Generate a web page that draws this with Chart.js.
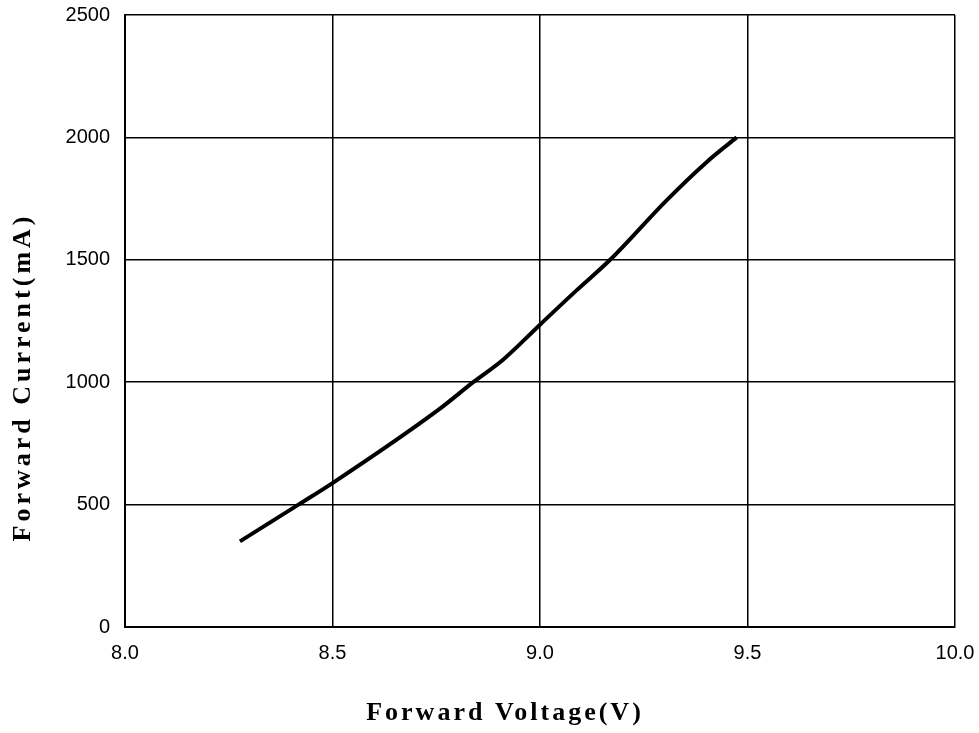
<!DOCTYPE html>
<html>
<head>
<meta charset="utf-8">
<script src="https://cdn.jsdelivr.net/npm/chart.js@4"></script>
<style>
    html, body { margin: 0; padding: 0; background: #fff; }
    #wrap { width: 979px; height: 733px; }
</style>
</head>
<body>
<div id="wrap"><canvas id="ivChart" width="979" height="733"></canvas></div>
<script>
// I-V curve data
const voltage = [8.277, 8.418, 8.5, 8.759, 8.839, 8.911, 9.0, 9.088, 9.169, 9.305, 9.402, 9.474];
const current = [350, 500, 588, 892, 1000, 1092, 1235, 1375, 1500, 1743, 1900, 2000];

const xTicks = [8.0, 8.5, 9.0, 9.5, 10.0];
const yTicks = [0, 500, 1000, 1500, 2000, 2500];

const xTitle = "Forward Voltage(V)";
const yTitle = "Forward Current(mA)";

const points = voltage.map((v, i) => ({ x: v, y: current[i] }));

// axis titles drawn by hand so they can get letter spacing
const axisTitles = {
    id: "axisTitles",
    afterDraw(chart) {
        const c = chart.ctx;
        c.save();
        c.fillStyle = "#000";
        c.font = "bold 26px 'Liberation Serif', 'Times New Roman', serif";
        c.letterSpacing = "3px";
        c.textAlign = "center";
        c.textBaseline = "middle";
        c.fillText(xTitle, 505, 713);

        c.translate(23, 377);
        c.rotate(-Math.PI / 2);
        c.letterSpacing = "4px";
        c.fillText(yTitle, 0, 0);
        c.restore();
    }
};

const ctx = document.getElementById("ivChart");

new Chart(ctx, {
    type: "line",
    data: {
        datasets: [{
            data: points,
            borderColor: "#000",
            borderWidth: 4,
            pointRadius: 0,
            cubicInterpolationMode: "monotone",
            fill: false
        }]
    },
    options: {
        responsive: false,
        animation: false,
        layout: {
            padding: { top: 15, right: 24, bottom: 0, left: 0 }
        },
        plugins: {
            legend: { display: false },
            tooltip: { enabled: false }
        },
        scales: {
            x: {
                type: "linear",
                min: 8,
                max: 10,
                afterBuildTicks(scale) {
                    scale.ticks = xTicks.map(v => ({ value: v }));
                },
                afterFit(scale) {
                    scale.height = 106;
                    scale.paddingLeft = 0;
                    scale.paddingRight = 0;
                },
                ticks: {
                    color: "#000",
                    padding: 14,
                    font: { family: "'Liberation Sans', Arial, sans-serif", size: 20 },
                    callback: v => v.toFixed(1)
                },
                grid: { color: "#000", lineWidth: 1.5, drawTicks: false },
                border: { color: "#000", width: 2 }
            },
            y: {
                min: 0,
                max: 2500,
                afterBuildTicks(scale) {
                    scale.ticks = yTicks.map(v => ({ value: v }));
                },
                afterFit(scale) {
                    scale.width = 125;
                    scale.paddingTop = 0;
                    scale.paddingBottom = 0;
                },
                ticks: {
                    color: "#000",
                    padding: 15,
                    font: { family: "'Liberation Sans', Arial, sans-serif", size: 20 },
                    callback: v => String(v)
                },
                grid: { color: "#000", lineWidth: 1.5, drawTicks: false },
                border: { color: "#000", width: 2 }
            }
        }
    },
    plugins: [axisTitles]
});
</script>
</body>
</html>
